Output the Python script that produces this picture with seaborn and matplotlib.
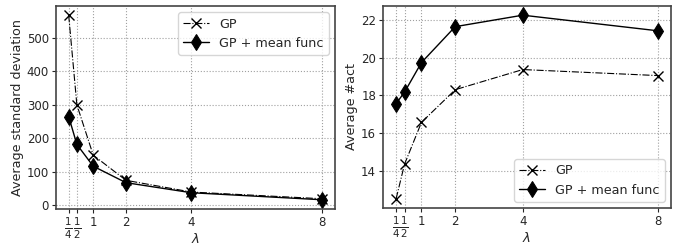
import numpy as np
import pandas as pd
import seaborn as sns
from matplotlib import pyplot as plt

lam = [0.25, 0.5, 1, 2, 4, 8]
xtick_labels = [r'$\frac{1}{4}$', r'$\frac{1}{2}$', '1', '2', '4', '8']

std_gp = [567, 300, 150, 75, 40, 20]
std_gp_mean = [265, 182, 117, 68, 38, 17]

act_gp = [12.5, 14.34, 16.56, 18.3, 19.37, 19.05]
act_gp_mean = [17.56, 18.17, 19.74, 21.65, 22.26, 21.43]

sns.set_style("whitegrid", {"grid.linestyle": ":", "grid.color": "#a0a0a0",
                            "axes.edgecolor": "#444444"})
plt.rcParams['font.family'] = ['DejaVu Sans']

fig = plt.figure(figsize=(6.92, 2.46), dpi=100)
ax1 = fig.add_axes([56/692, 37/246, 279/692, 203/246])
ax2 = fig.add_axes([383/692, 38/246, 288/692, 202/246])

panels = [(ax1, std_gp, std_gp_mean, 'Average standard deviation', 'upper right'),
          (ax2, act_gp, act_gp_mean, 'Average #act', 'lower right')]

for ax, gp, gpm, ylab, loc in panels:
    df = pd.DataFrame({'lam': lam, 'gp': gp, 'gpm': gpm})
    sns.lineplot(data=df, x='lam', y='gp', ax=ax, color='k', linestyle='-.',
                 marker='x', markersize=6.5, markeredgecolor='k', markeredgewidth=1,
                 linewidth=0.8, label='GP')
    sns.lineplot(data=df, x='lam', y='gpm', ax=ax, color='k', linestyle='-',
                 marker='d', markersize=8, markeredgecolor='k',
                 linewidth=1, label='GP + mean func')
    ax.set_xticks(lam)
    ax.tick_params(labelsize=8.5, length=3, left=True, bottom=True, width=0.8, pad=2)
    ax.set_xticklabels(xtick_labels)
    # fractions for the two smallest lambdas
    for tk in ax.xaxis.get_major_ticks()[:2]:
        tk.label1.set_fontsize(10.5)
    ax.set_xlabel(r'$\lambda$', fontsize=9.5)
    ax.xaxis.set_label_coords(0.5, -0.115)
    ax.set_ylabel(ylab, fontsize=9.2, labelpad=2)
    for s in ax.spines.values():
        s.set_linewidth(1.2)
    ax.legend(loc=loc, fontsize=9.2, frameon=True, edgecolor='#cccccc', fancybox=True)

ax2.set_yticks([14, 16, 18, 20, 22])

plt.savefig('out.png')
